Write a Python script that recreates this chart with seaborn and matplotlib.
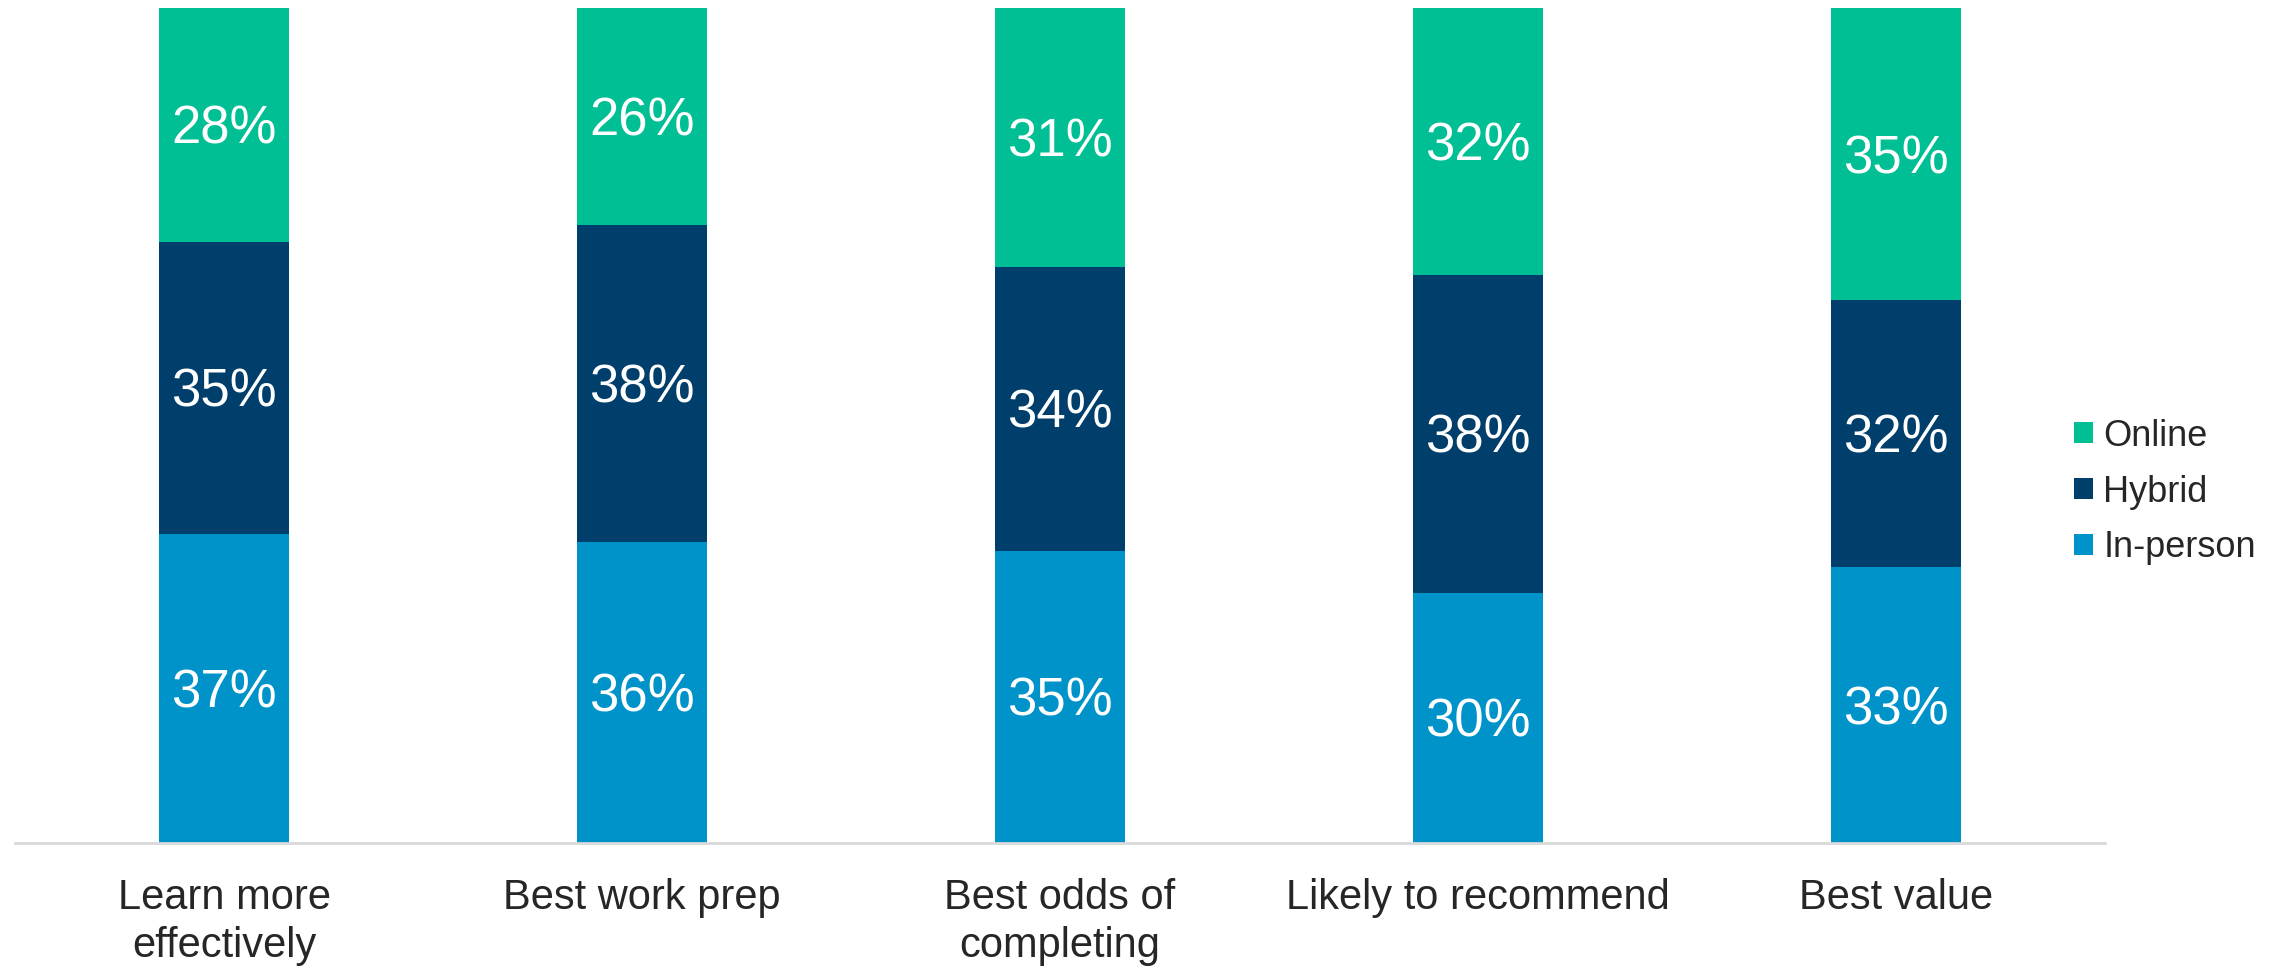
import matplotlib
matplotlib.use("Agg")
import matplotlib.pyplot as plt
from matplotlib.patches import Patch
import seaborn as sns
import pandas as pd

# Survey results: share of respondents choosing each learning format
categories = ["Learn more\neffectively", "Best work prep", "Best odds of\ncompleting",
              "Likely to recommend", "Best value"]
in_person = [37, 36, 35, 30, 33]
hybrid = [35, 38, 34, 38, 32]
online = [28, 26, 31, 32, 35]

series_names = ["In-person", "Hybrid", "Online"]
colors = {"In-person": "#0093c9", "Hybrid": "#003e6b", "Online": "#00bf95"}

sns.set_theme(style="white")
plt.rcParams["font.family"] = ["Liberation Sans", "DejaVu Sans"]

df = pd.DataFrame({"category": categories, "In-person": in_person,
                   "Hybrid": hybrid, "Online": online})
df["cum_inperson"] = df["In-person"]
df["cum_hybrid"] = df["In-person"] + df["Hybrid"]
df["cum_online"] = df["cum_hybrid"] + df["Online"]

fig = plt.figure(figsize=(22.83, 9.67), dpi=100)
ax = fig.add_axes([15 / 2283, 1 - 843 / 967, (2105 - 15) / 2283, (843 - 8) / 967])

bar_w = 0.31
# stacked bars: draw cumulative totals from the top layer down
for col, name in [("cum_online", "Online"), ("cum_hybrid", "Hybrid"), ("cum_inperson", "In-person")]:
    sns.barplot(data=df, x="category", y=col, color=colors[name], width=bar_w,
                saturation=1, ax=ax, linewidth=0, order=categories)

# value labels centred (by cap height) in each segment
label_size = 38
cap_offset = -0.36 * label_size
for i, row in df.iterrows():
    bottom = 0
    for name in series_names:
        val = row[name]
        ax.annotate(f"{val}%", xy=(i, bottom + val / 2), xytext=(0, cap_offset),
                    textcoords="offset points", ha="center", va="baseline",
                    color="white", fontsize=label_size)
        bottom += val

ax.set_xlim(-0.5, len(categories) - 0.5)
ax.set_ylim(0, 100)
ax.set_xlabel("")
ax.set_ylabel("")
ax.set_yticks([])
ax.tick_params(axis="x", length=0, pad=25, labelsize=30, colors="#262626")
ax.set_xticks(range(len(categories)))
ax.set_xticklabels(categories, linespacing=1.27, va="top")
for s in ["top", "left", "right"]:
    ax.spines[s].set_visible(False)
ax.spines["bottom"].set_color("#d9d9d9")
ax.spines["bottom"].set_linewidth(2)

handles = [Patch(facecolor=colors[n], edgecolor="none", label=n) for n in ["Online", "Hybrid", "In-person"]]
fig.legend(handles=handles, loc="center left", bbox_to_anchor=(2074 / 2283, 1 - 492 / 967),
           frameon=False, fontsize=26, handlelength=0.53, handleheight=0.53,
           handletextpad=0.28, labelspacing=0.58, borderpad=0, borderaxespad=0,
           labelcolor="#262626")

fig.savefig("out.png", dpi=100, facecolor="white")
